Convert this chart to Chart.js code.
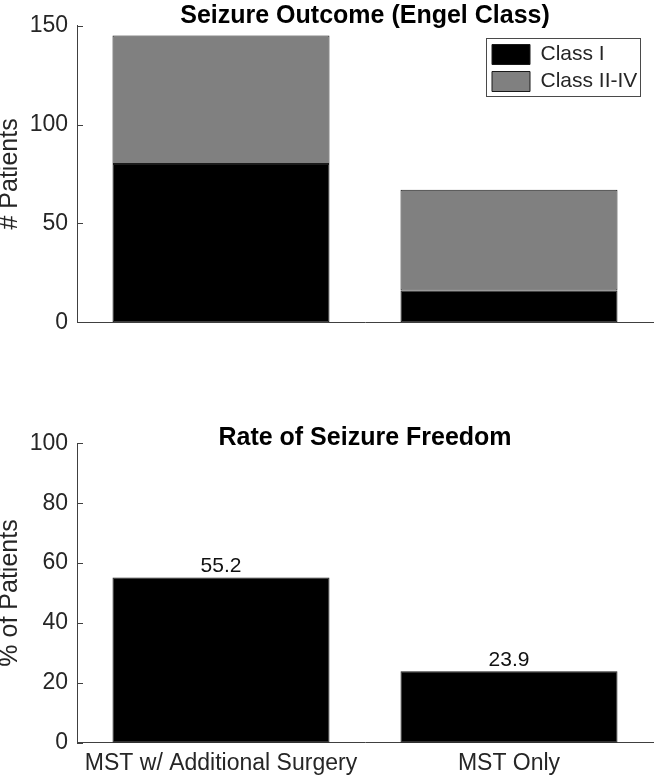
<!DOCTYPE html>
<html><head><meta charset="utf-8">
<script src="https://cdn.jsdelivr.net/npm/chart.js@4.4.1/dist/chart.umd.min.js"></script>
<style>
html,body{margin:0;padding:0;background:#fff;}
#wrap{position:relative;width:654px;height:777px;overflow:hidden;}
canvas{position:absolute;left:0;}
#c1{top:0;}
#c2{top:345px;}
</style></head><body>
<div id="wrap">
<canvas id="c1" width="654" height="345"></canvas>
<canvas id="c2" width="654" height="432"></canvas>
</div>
<script>
// ---- data ----
const categories = ['MST w/ Additional Surgery', 'MST Only'];
const seriesNames = ['Class I', 'Class II-IV'];
const classI = [80, 16];
const classIItoIV = [65, 51];
const seizureFreePct = [55.2, 23.9];
const countTicks = [0, 50, 100, 150];
const pctTicks = [0, 20, 40, 60, 80, 100];
const chartTitles = ['Seizure Outcome (Engel Class)', 'Rate of Seizure Freedom'];
const yAxisTitles = ['# Patients', '% of Patients'];

// ---- styles ----
const FONT = '"Liberation Sans", Arial, Helvetica, sans-serif';
const AXIS = '#404040';
const TEXT = '#262626';

const titlePlugin = {
  id: 'axTitle',
  afterDraw(chart, args, opts) {
    const {ctx, chartArea} = chart;
    ctx.save();
    ctx.font = 'bold 25px ' + FONT;
    ctx.fillStyle = '#000';
    ctx.textAlign = 'center';
    ctx.textBaseline = 'alphabetic';
    ctx.fillText(opts.text, (chartArea.left + chartArea.right) / 2, chartArea.top - opts.gap);
    ctx.restore();
  }
};

const inTicksPlugin = {
  id: 'inTicks',
  beforeDatasetsDraw(chart) {
    const {ctx, chartArea} = chart;
    const y = chart.scales.y;
    ctx.save();
    ctx.strokeStyle = AXIS;
    ctx.lineWidth = 1;
    y.ticks.forEach(t => {
      const py = Math.round(y.getPixelForValue(t.value)) + 0.5;
      ctx.beginPath();
      ctx.moveTo(chartArea.left, py);
      ctx.lineTo(chartArea.left + 6, py);
      ctx.stroke();
    });
    ctx.restore();
  }
};

const legendPlacePlugin = {
  id: 'legendPlace',
  afterLayout(chart, args, opts) {
    const lg = chart.legend;
    if (!lg) return;
    const h = lg.height;
    lg.left = opts.left; lg.top = opts.top;
    lg.right = opts.left + lg.width; lg.bottom = opts.top + h;
  },
  afterDraw(chart, args, opts) {
    const {ctx} = chart;
    ctx.save();
    ctx.strokeStyle = '#4a4a4a';
    ctx.lineWidth = 1;
    ctx.strokeRect(Math.round(opts.left) + 0.5, Math.round(opts.top) + 0.5, opts.w, opts.h);
    ctx.restore();
  }
};

const valueLabelPlugin = {
  id: 'valLabels',
  afterDatasetsDraw(chart) {
    const {ctx} = chart;
    const meta = chart.getDatasetMeta(0);
    const data = chart.data.datasets[0].data;
    ctx.save();
    ctx.font = '21px ' + FONT;
    ctx.fillStyle = '#111';
    ctx.textAlign = 'center';
    ctx.textBaseline = 'alphabetic';
    meta.data.forEach((el, i) => {
      ctx.fillText(data[i].toFixed(1), el.x, el.y - 5);
    });
    ctx.restore();
  }
};

function yScale(max, tickVals, title) {
  return {
    min: 0, max: max,
    afterBuildTicks: s => { s.ticks = tickVals.map(v => ({value: v})); },
    afterFit: s => { s.width = 77; },
    grid: {display: false, drawTicks: false},
    border: {display: true, color: AXIS, width: 1},
    ticks: {color: TEXT, font: {family: FONT, size: 23}, padding: 9},
    title: {display: true, text: title, color: TEXT, font: {family: FONT, size: 25, lineHeight: 0.8}, padding: 0}
  };
}

// ---- top chart: stacked counts ----
new Chart(document.getElementById('c1'), {
  type: 'bar',
  data: {
    labels: categories,
    datasets: [
      {label: seriesNames[0], data: classI, backgroundColor: '#000000', borderColor: '#1a1a1a', borderWidth: 1, borderSkipped: false},
      {label: seriesNames[1], data: classIItoIV, backgroundColor: '#808080', borderColor: '#1a1a1a', borderWidth: 1, borderSkipped: false}
    ]
  },
  options: {
    responsive: false, animation: false, devicePixelRatio: 1,
    layout: {padding: {top: 25.7, right: 1, left: 0, bottom: 0}},
    datasets: {bar: {barPercentage: 0.7535, categoryPercentage: 1}},
    scales: {
      x: {
        stacked: true,
        afterFit: s => { s.height = 19.5; },
        grid: {display: false, drawTicks: false},
        border: {display: true, color: AXIS, width: 1},
        ticks: {display: false}
      },
      y: Object.assign(yScale(150, countTicks, yAxisTitles[0]), {stacked: true})
    },
    plugins: {
      legend: {
        display: true, position: 'chartArea', align: 'start',
        labels: {boxWidth: 38, boxHeight: 20, padding: 6, color: TEXT, font: {family: FONT, size: 21}}
      },
      tooltip: {enabled: false},
      axTitle: {text: chartTitles[0], gap: 3},
      legendPlace: {left: 486, top: 38, w: 154, h: 58}
    }
  },
  plugins: [titlePlugin, inTicksPlugin, legendPlacePlugin]
});

// ---- bottom chart: percentage ----
new Chart(document.getElementById('c2'), {
  type: 'bar',
  data: {
    labels: categories,
    datasets: [
      {label: 'Seizure freedom', data: seizureFreePct, backgroundColor: '#000000', borderColor: '#1a1a1a', borderWidth: 1, borderSkipped: false}
    ]
  },
  options: {
    responsive: false, animation: false, devicePixelRatio: 1,
    layout: {padding: {top: 98.3, right: 1, left: 0, bottom: 0}},
    datasets: {bar: {barPercentage: 0.7535, categoryPercentage: 1}},
    scales: {
      x: {
        afterFit: s => { s.height = 34.3; },
        grid: {display: false, drawTicks: false},
        border: {display: true, color: AXIS, width: 1},
        ticks: {color: TEXT, font: {family: FONT, size: 23}, padding: 7, maxRotation: 0, autoSkip: false}
      },
      y: yScale(100, pctTicks, yAxisTitles[1])
    },
    plugins: {
      legend: {display: false},
      tooltip: {enabled: false},
      axTitle: {text: chartTitles[1], gap: -2}
    }
  },
  plugins: [titlePlugin, inTicksPlugin, valueLabelPlugin]
});
</script>
</body></html>
